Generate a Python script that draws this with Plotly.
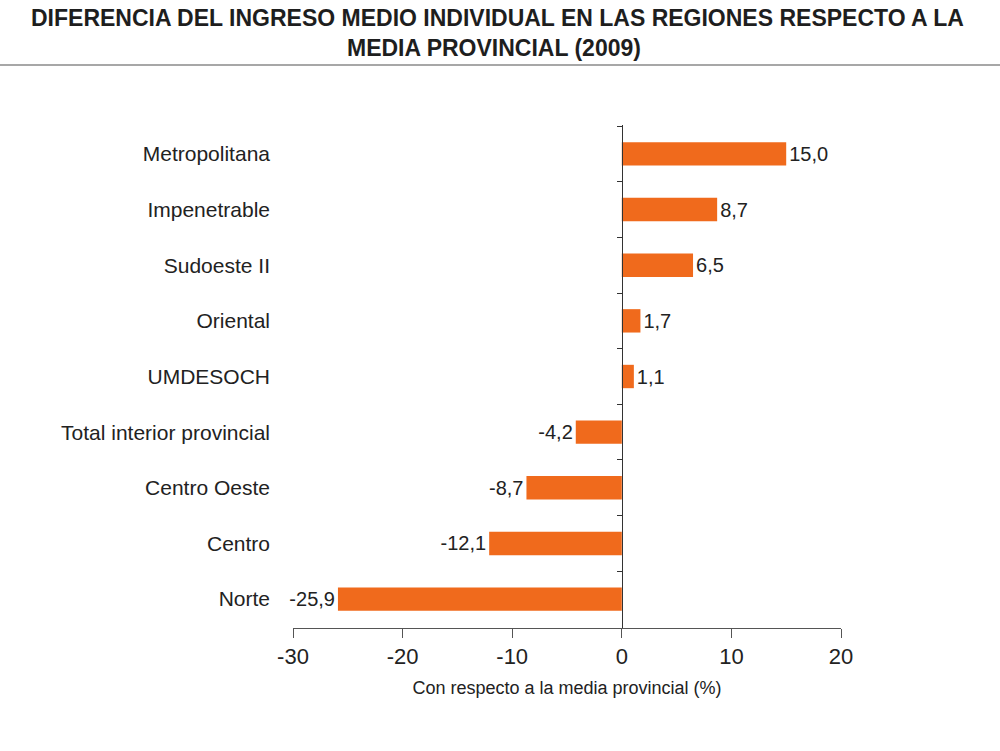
import plotly.graph_objects as go

categories = ["Metropolitana", "Impenetrable", "Sudoeste II", "Oriental", "UMDESOCH",
              "Total interior provincial", "Centro Oeste", "Centro", "Norte"]
values = [15.0, 8.7, 6.5, 1.7, 1.1, -4.2, -8.7, -12.1, -25.9]
x_ticks = [-30, -20, -10, 0, 10, 20]
title_lines = ["DIFERENCIA DEL INGRESO MEDIO INDIVIDUAL EN LAS REGIONES RESPECTO A LA",
               "MEDIA PROVINCIAL (2009)"]

labels = [f"{v:.1f}".replace(".", ",") for v in values]

ARIAL = "Arial, Liberation Sans, sans-serif"
W, H = 1000, 751
ML, MR, MT, MB = 293, 159, 125, 123
pw, ph = W - ML - MR, H - MT - MB


def py(p):
    """pixel row -> paper y"""
    return (H - MB - p) / ph


def px(p):
    """pixel column -> paper x"""
    return (p - ML) / pw


fig = go.Figure()
fig.add_trace(go.Bar(
    x=values, y=categories, orientation="h",
    marker=dict(color="#F06A1C", line=dict(width=0)),
    width=0.42,
    text=labels, textposition="outside", cliponaxis=False,
    textfont=dict(family=ARIAL, size=20, color="#222"),
    showlegend=False, hoverinfo="skip",
))
# invisible trace to carry the zero-line axis with boundary ticks
fig.add_trace(go.Scatter(
    x=[0] * len(categories), y=categories, yaxis="y2", mode="markers",
    marker=dict(opacity=0), showlegend=False, hoverinfo="skip",
))

fig.update_layout(
    width=W, height=H,
    margin=dict(l=ML, r=MR, t=MT, b=MB),
    paper_bgcolor="white", plot_bgcolor="white",
    xaxis=dict(
        range=[-30, 20], tickvals=x_ticks, ticktext=[str(t) for t in x_ticks],
        showgrid=False, zeroline=False, showline=True, linecolor="#555", linewidth=1,
        ticks="outside", ticklen=9, tickcolor="#555",
        tickfont=dict(family=ARIAL, size=22, color="#222"),
        title=dict(text="Con respecto a la media provincial (%)",
                   font=dict(family=ARIAL, size=18, color="#222"), standoff=12),
    ),
    yaxis=dict(
        type="category", categoryorder="array", categoryarray=categories,
        autorange="reversed", showgrid=False, zeroline=False, showline=False, ticks="",
        ticklabelstandoff=22,
        tickfont=dict(family=ARIAL, size=21, color="#222"),
    ),
    yaxis2=dict(
        type="category", categoryorder="array", categoryarray=categories,
        overlaying="y", matches="y", anchor="free", position=(0 - (-30)) / 50,
        showline=True, linecolor="#333", linewidth=1,
        ticks="outside", tickson="boundaries", ticklen=5, tickcolor="#333",
        showticklabels=False, showgrid=False, zeroline=False,
    ),
    shapes=[dict(
        type="line", xref="paper", yref="paper",
        x0=px(0), x1=px(W), y0=py(65), y1=py(65),
        line=dict(color="#8a8a8a", width=1.5),
    )],
    annotations=[
        dict(text=f"<b>{title_lines[0]}</b>", xref="paper", yref="paper",
             x=px(497), y=py(18), xanchor="center", yanchor="middle", showarrow=False,
             font=dict(family=ARIAL, size=23, color="#1e1e1e")),
        dict(text=f"<b>{title_lines[1]}</b>", xref="paper", yref="paper",
             x=px(494), y=py(48), xanchor="center", yanchor="middle", showarrow=False,
             font=dict(family=ARIAL, size=23, color="#1e1e1e")),
    ],
)

fig.write_html("out.html")
